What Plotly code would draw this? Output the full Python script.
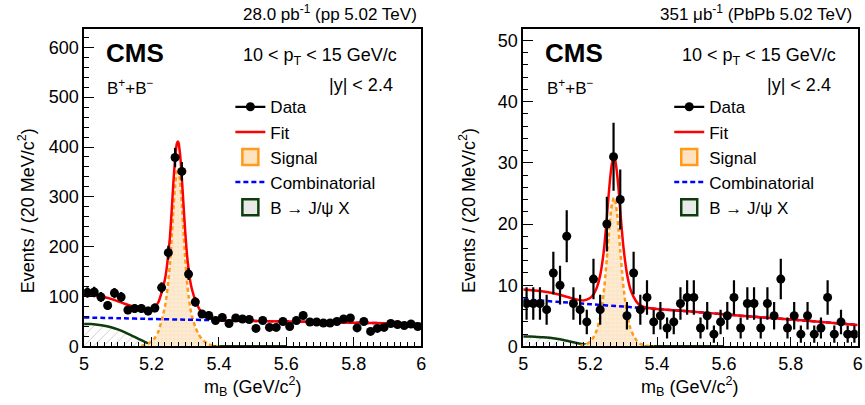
import numpy as np
import plotly.graph_objects as go

W, H = 865, 405
HE = 394  # effective drawn height used for placing elements

# ---------------- data ----------------
bin_centers = [round(5.01 + 0.02 * i, 2) for i in range(50)]

pp_counts = [108, 109, 99, 82, 107, 99, 73, 76, 76, 71, 77, 118, 188, 379, 351, 145, 89, 65, 62, 52,
             58, 46, 57, 55, 54, 36, 52, 38, 38, 50, 40, 52, 62, 49, 49, 47, 47, 50, 55, 57,
             37, 50, 30, 36, 38, 46, 44, 42, 45, 40]
pbpb_counts = [7, 7, 7, 6, 12, 10, 18, 7, 6, 4, 11, 6, 20, 31, 24, 5, 12, 6, 8, 4,
               5, 3, 4, 7, 8, 8, 3, 5, 2, 4, 5, 8, 3, 7, 7, 3, 7, 5, 11, 3,
               5, 2, 5, 2, 3, 8, 2, 4, 2, 2]

# ---- pp curves ----
pp_fit_x = [5.00, 5.02, 5.04, 5.06, 5.08, 5.10, 5.12, 5.14, 5.16, 5.18, 5.19, 5.20, 5.21, 5.22, 5.23,
            5.24, 5.245, 5.25, 5.255, 5.26, 5.265, 5.27, 5.275, 5.278, 5.28, 5.285, 5.29, 5.295, 5.30,
            5.305, 5.31, 5.315, 5.32, 5.33, 5.34, 5.35, 5.37, 5.40, 5.50, 5.60, 5.70, 5.80, 5.90, 6.00]
pp_fit_y = [103, 102.5, 100.9, 98.6, 95.3, 90.5, 85.5, 81, 77.5, 75, 74.5, 75, 79, 88, 108,
            134.5, 156.5, 186.4, 221.4, 273.3, 328.3, 376.2, 406.2, 411.1, 409.1, 384, 338, 283.9, 230.9,
            186.8, 154.8, 130.7, 114.6, 92.5, 77.4, 67.2, 57, 52.4, 51.2, 50, 48.8, 47.5, 46.3, 45]
pp_sig_x = [5.17, 5.19, 5.20, 5.21, 5.22, 5.23, 5.24, 5.245, 5.25, 5.255, 5.26, 5.265, 5.27, 5.275, 5.278,
            5.28, 5.285, 5.29, 5.295, 5.30, 5.305, 5.31, 5.315, 5.32, 5.33, 5.34, 5.35, 5.37, 5.39, 5.41]
pp_sig_y = [1, 5, 10, 17, 29, 52, 80, 102, 132, 167, 219, 274, 322, 352, 357,
            355, 330, 284, 230, 177, 133, 101, 77, 61, 39, 24, 14, 4, 1, 0]
pp_comb_x = [5.0, 5.1, 5.2, 5.3, 5.4, 5.5, 5.6, 5.7, 5.8, 5.9, 6.0]
pp_comb_y = [58, 56.5, 55, 53.6, 52.4, 51.2, 50, 48.8, 47.5, 46.3, 45]
pp_jpsi_x = [5.00, 5.02, 5.04, 5.06, 5.08, 5.10, 5.12, 5.14, 5.16, 5.18, 5.20, 5.22, 5.24, 5.26, 5.60]
pp_jpsi_y = [45, 44.8, 43.5, 41.5, 38.5, 34, 28.5, 22, 15.8, 9, 3.5, 0.8, 0.1, 0, 0]

# ---- PbPb curves ----
pb_fit_x = [5.00, 5.05, 5.10, 5.15, 5.18, 5.20, 5.21, 5.22, 5.23, 5.24, 5.245, 5.25, 5.255, 5.26, 5.265,
            5.271, 5.275, 5.28, 5.285, 5.29, 5.295, 5.30, 5.31, 5.32, 5.33, 5.34, 5.35, 5.37, 5.40, 5.50,
            5.60, 5.70, 5.80, 5.90, 6.00]
pb_fit_y = [9.3, 9.05, 8.55, 7.8, 7.5, 7.9, 8.5, 9.6, 11.6, 15.2, 17.9, 21.1, 24.5, 27.6, 29.8,
            30.9, 30.4, 28.5, 25.7, 22.2, 18.9, 16.0, 11.9, 9.4, 8.1, 7.2, 6.7, 6.3, 6.1, 5.7,
            5.25, 4.8, 4.4, 3.95, 3.5]
pb_sig_x = [5.17, 5.19, 5.20, 5.21, 5.22, 5.23, 5.24, 5.245, 5.25, 5.255, 5.26, 5.265, 5.271, 5.275, 5.28,
            5.285, 5.29, 5.295, 5.30, 5.31, 5.32, 5.33, 5.34, 5.35, 5.37, 5.39]
pb_sig_y = [0.1, 0.37, 0.77, 1.5, 2.7, 4.8, 8.5, 11.2, 14.4, 17.8, 20.9, 23.2, 24.3, 23.8, 21.95,
            19.1, 15.7, 12.4, 9.5, 5.4, 3.0, 1.7, 0.9, 0.4, 0.1, 0]
pb_comb_x = [5.0, 5.1, 5.2, 5.3, 5.4, 5.5, 5.6, 5.7, 5.8, 5.9, 6.0]
pb_comb_y = [7.7, 7.3, 6.9, 6.5, 6.1, 5.7, 5.25, 4.8, 4.4, 3.95, 3.5]
pb_jpsi_x = [5.00, 5.02, 5.04, 5.06, 5.08, 5.10, 5.12, 5.14, 5.16, 5.18, 5.20, 5.22, 5.24, 5.26, 5.60]
pb_jpsi_y = [1.6, 1.6, 1.55, 1.5, 1.4, 1.25, 1.05, 0.8, 0.55, 0.35, 0.2, 0.08, 0.02, 0, 0]

legend_labels = ["Data", "Fit", "Signal", "Combinatorial", "B \u2192 J/\u03c8 X"]

# ---------------- style ----------------
FONT = "Liberation Sans, Arial, Helvetica, sans-serif"
RED = "#ff0000"
BLUE = "#0000ff"
ORANGE = "#ff9a1a"
GREEN = "#0d3d0d"

fig = go.Figure()


def add_panel(xa, ya, leg, counts, fit_x, fit_y, sig_x, sig_y, comb_x, comb_y, jpsi_x, jpsi_y):
    # B -> J/psi X (hatched)
    fig.add_trace(go.Scatter(
        x=jpsi_x, y=jpsi_y, mode="lines", xaxis=xa, yaxis=ya,
        line=dict(color=GREEN, width=2.5, shape="spline", smoothing=0.6),
        fill="tozeroy", fillcolor="white",
        fillpattern=dict(shape="/", fgcolor="#8a8a8a", bgcolor="white", size=7, solidity=0.12),
        name=legend_labels[4], showlegend=False))
    # Signal
    fig.add_trace(go.Scatter(
        x=sig_x, y=sig_y, mode="lines", xaxis=xa, yaxis=ya,
        line=dict(color=ORANGE, width=2.5, dash="4px,3px", shape="spline", smoothing=0.6),
        fill="tozeroy", fillcolor="#fde6c6",
        fillpattern=dict(shape="+", fgcolor="#f9cf97", bgcolor="#fdebd3", size=4, solidity=0.25),
        name=legend_labels[2], showlegend=False))
    # Combinatorial
    fig.add_trace(go.Scatter(
        x=comb_x, y=comb_y, mode="lines", xaxis=xa, yaxis=ya, legend=leg,
        line=dict(color=BLUE, width=2.5, dash="5px,3px", shape="spline", smoothing=0.6),
        name=legend_labels[3], legendrank=4, showlegend=True))
    # Fit
    fig.add_trace(go.Scatter(
        x=fit_x, y=fit_y, mode="lines", xaxis=xa, yaxis=ya, legend=leg,
        line=dict(color=RED, width=2.5, shape="spline", smoothing=0.6),
        name=legend_labels[1], legendrank=2, showlegend=True))
    # Data
    c = np.array(counts, dtype=float)
    fig.add_trace(go.Scatter(
        x=bin_centers, y=counts, mode="markers", xaxis=xa, yaxis=ya,
        marker=dict(color="black", size=9, symbol="circle"),
        error_y=dict(type="data", array=np.sqrt(c), color="black", thickness=2.2, width=0),
        name=legend_labels[0], showlegend=False))
    # Legend-only entries
    fig.add_trace(go.Scatter(
        x=[None], y=[None], mode="lines+markers", xaxis=xa, yaxis=ya, legend=leg,
        line=dict(color="black", width=2.2), marker=dict(color="black", size=9),
        name=legend_labels[0], legendrank=1, showlegend=True))
    fig.add_trace(go.Scatter(
        x=[None], y=[None], mode="markers", xaxis=xa, yaxis=ya, legend=leg,
        marker=dict(symbol="square", size=16, color="#fde3bf", line=dict(color=ORANGE, width=2.5)),
        name=legend_labels[2], legendrank=3, showlegend=True))
    fig.add_trace(go.Scatter(
        x=[None], y=[None], mode="markers", xaxis=xa, yaxis=ya, legend=leg,
        marker=dict(symbol="square", size=16, color="#e9e9e9", line=dict(color=GREEN, width=2.5)),
        name=legend_labels[4], legendrank=5, showlegend=True))


add_panel("x", "y", "legend", pp_counts, pp_fit_x, pp_fit_y, pp_sig_x, pp_sig_y,
          pp_comb_x, pp_comb_y, pp_jpsi_x, pp_jpsi_y)
add_panel("x2", "y2", "legend2", pbpb_counts, pb_fit_x, pb_fit_y, pb_sig_x, pb_sig_y,
          pb_comb_x, pb_comb_y, pb_jpsi_x, pb_jpsi_y)

YD = [1 - 345.5 / HE, 1 - 28.8 / HE]


def axis_common(**kw):
    d = dict(showline=True, linecolor="black", linewidth=1.5, mirror=True,
             ticks="inside", ticklen=10, tickwidth=1.2, tickcolor="black",
             showgrid=False, zeroline=False,
             tickfont=dict(family=FONT, size=18, color="black"))
    d.update(kw)
    return d


fig.update_layout(
    width=W, height=H, margin=dict(l=0, r=0, t=0, b=0),
    paper_bgcolor="white", plot_bgcolor="white",
    font=dict(family=FONT, size=18, color="black"),
    xaxis=axis_common(domain=[80 / W, 421 / W], range=[5, 6], dtick=0.2, tick0=5, anchor="y",
                      minor=dict(dtick=0.02, ticklen=5, ticks="inside", tickcolor="black")),
    yaxis=axis_common(domain=YD, range=[0, 637], dtick=100, anchor="x",
                      minor=dict(dtick=20, ticklen=5, ticks="inside", tickcolor="black")),
    xaxis2=axis_common(domain=[524.3 / W, 862.7 / W], range=[5, 6], dtick=0.2, tick0=5, anchor="y2",
                       minor=dict(dtick=0.02, ticklen=5, ticks="inside", tickcolor="black")),
    yaxis2=axis_common(domain=YD, range=[0, 51.9], dtick=10, anchor="x2",
                       minor=dict(dtick=2, ticklen=5, ticks="inside", tickcolor="black")),
    legend=dict(x=228 / W, y=1 - 89 / HE, xanchor="left", yanchor="top",
                bgcolor="rgba(0,0,0,0)", borderwidth=0, tracegroupgap=0,
                font=dict(family=FONT, size=17), itemwidth=30),
    legend2=dict(x=672 / W, y=1 - 89 / HE, xanchor="left", yanchor="top",
                 bgcolor="rgba(0,0,0,0)", borderwidth=0, tracegroupgap=0,
                 font=dict(family=FONT, size=17), itemwidth=30),
)


def txt(text, px, py, xanchor="left", size=18, bold=False, angle=0):
    fig.add_annotation(
        text=f"<b>{text}</b>" if bold else text,
        x=px / W, y=1 - py / HE, xref="paper", yref="paper",
        xanchor=xanchor, yanchor="middle", showarrow=False, textangle=angle,
        font=dict(family=FONT, size=size, color="black"))


# Left panel texts
txt("28.0 pb<sup>-1</sup> (pp 5.02 TeV)", 419, 13, xanchor="right", size=17)
txt("CMS", 100, 53, size=26, bold=True)
txt("B<sup>+</sup>+B<sup>\u2212</sup>", 101, 87, size=17)
txt("10 < p<sub>T</sub> < 15 GeV/c", 399, 56, xanchor="right", size=18)
txt("|y| < 2.4", 395, 85, xanchor="right", size=18)
txt("Events / (20 MeV/c<sup>2</sup>)", 22, 210, xanchor="center", size=18, angle=-90)
txt("m<sub>B</sub> (GeV/c<sup>2</sup>)", 250, 386, xanchor="center", size=18)

# Right panel texts
txt("351 \u03bcb<sup>-1</sup> (PbPb 5.02 TeV)", 859, 13, xanchor="right", size=17)
txt("CMS", 544, 53, size=26, bold=True)
txt("B<sup>+</sup>+B<sup>\u2212</sup>", 546, 87, size=17)
txt("10 < p<sub>T</sub> < 15 GeV/c", 843, 56, xanchor="right", size=18)
txt("|y| < 2.4", 838, 85, xanchor="right", size=18)
txt("Events / (20 MeV/c<sup>2</sup>)", 468, 210, xanchor="center", size=18, angle=-90)
txt("m<sub>B</sub> (GeV/c<sup>2</sup>)", 693, 386, xanchor="center", size=18)

fig.write_html("out.html", config={"displayModeBar": False},
               post_script="document.body.style.margin='0px';document.body.style.overflow='hidden';")
